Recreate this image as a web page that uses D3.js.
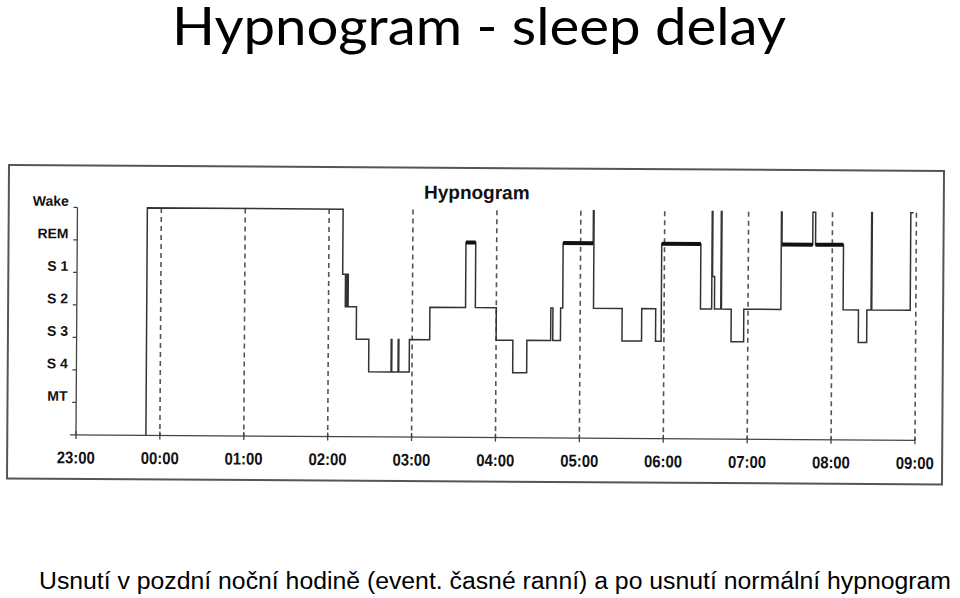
<!DOCTYPE html>
<html>
<head>
<meta charset="utf-8">
<script src="https://cdn.jsdelivr.net/npm/d3@7"></script>
<style>
  body { margin: 0; background: #fff; }
  svg { display: block; }
</style>
</head>
<body>
<div id="charts"></div>
<script>
var stages = ["Wake", "REM", "S 1", "S 2", "S 3", "S 4", "MT"];
var hourLabels = ["23:00", "00:00", "01:00", "02:00", "03:00", "04:00", "05:00", "06:00", "07:00", "08:00", "09:00"];

// [clock time, stage] - stage null means the line starts at the time axis
var hypnogram = [
  ["23:50", null],
  ["23:50", "Wake"],
  ["02:10", "S 1"],
  ["02:12", "S 2"],
  ["02:13", "S 1"],
  ["02:14", "S 2"],
  ["02:20", "S 3"],
  ["02:29", "S 4"],
  ["02:45", "S 3"],
  ["02:45:30", "S 4"],
  ["02:50", "S 3"],
  ["02:50:30", "S 4"],
  ["02:58", "S 3"],
  ["03:12:30", "S 2"],
  ["03:38", "REM"],
  ["03:45", "S 2"],
  ["04:00", "S 3"],
  ["04:12", "S 4"],
  ["04:22", "S 3"],
  ["04:39", "S 2"],
  ["04:40:30", "S 3"],
  ["04:46", "S 2"],
  ["04:47:30", "REM"],
  ["05:09", "Wake"],
  ["05:09:30", "S 2"],
  ["05:30", "S 3"],
  ["05:44", "S 2"],
  ["05:54", "S 3"],
  ["05:58", "REM"],
  ["06:26", "S 2"],
  ["06:34", "Wake"],
  ["06:34:30", "S 1"],
  ["06:36", "S 2"],
  ["06:40:30", "Wake"],
  ["06:41", "S 2"],
  ["06:48", "S 3"],
  ["06:57", "S 2"],
  ["07:23:30", "Wake"],
  ["07:24", "REM"],
  ["07:46", "Wake"],
  ["07:48", "REM"],
  ["08:08", "S 2"],
  ["08:19", "S 3"],
  ["08:25", "S 2"],
  ["08:28", "Wake"],
  ["08:28:30", "S 2"],
  ["08:56", "Wake"],
  ["08:58", "Wake"]
];

var width = 960,
    height = 598;

// minutes after 23:00
function toMinutes(t) {
  var p = t.split(":").map(Number);
  var h = p[0] >= 12 ? p[0] - 23 : p[0] + 1;
  return h * 60 + p[1] + (p[2] || 0) / 60;
}

function stageIndex(s) {
  return s === null ? stages.length : stages.indexOf(s);
}

var x = d3.scaleLinear().domain([0, 600]).range([76.7, 915.7]);
var y = d3.scaleLinear().domain([0, stages.length]).range([210, 437.5]);

var svg = d3.select("#charts").append("svg")
    .attr("width", width)
    .attr("height", height);

svg.append("text")
    .attr("x", 479)
    .attr("y", 45)
    .attr("text-anchor", "middle")
    .attr("textLength", 614)
    .attr("lengthAdjust", "spacingAndGlyphs")
    .style("font-family", "Lato, 'Open Sans', sans-serif")
    .style("font-size", "53px")
    .style("fill", "#000")
    .text("Hypnogram - sleep delay");

svg.append("text")
    .attr("x", 39)
    .attr("y", 588.5)
    .attr("textLength", 912)
    .attr("lengthAdjust", "spacingAndGlyphs")
    .style("font-family", "'Liberation Sans', Arial, sans-serif")
    .style("font-size", "23.5px")
    .style("fill", "#000")
    .text("Usnutí v pozdní noční hodině (event. časné ranní) a po usnutí normální hypnogram");

// the scanned figure is slightly tilted
var chart = svg.append("g")
    .attr("transform", "rotate(0.37,476,325)");

chart.append("rect")
    .attr("x", 8)
    .attr("y", 168)
    .attr("width", 935)
    .attr("height", 313.5)
    .style("fill", "none")
    .style("stroke", "#555")
    .style("stroke-width", 2);

chart.append("text")
    .attr("x", 476)
    .attr("y", 199)
    .attr("text-anchor", "middle")
    .style("font-family", "'Liberation Sans', Arial, sans-serif")
    .style("font-weight", "bold")
    .style("font-size", "19px")
    .style("fill", "#111")
    .text("Hypnogram");

// hour grid
chart.selectAll(".grid")
    .data(hourLabels.slice(1))
  .enter().append("line")
    .attr("class", "grid")
    .attr("x1", function(d, i) { return x((i + 1) * 60); })
    .attr("x2", function(d, i) { return x((i + 1) * 60); })
    .attr("y1", y(0))
    .attr("y2", y(stages.length))
    .style("stroke", "#555")
    .style("stroke-width", 1.6)
    .style("stroke-dasharray", "5,4");

// y axis
var yAxis = chart.append("g").attr("class", "yaxis");
yAxis.append("line")
    .attr("x1", x(0)).attr("x2", x(0))
    .attr("y1", y(0)).attr("y2", y(stages.length))
    .style("stroke", "#444").style("stroke-width", 1.3);
yAxis.selectAll(".ytick")
    .data(stages)
  .enter().append("line")
    .attr("class", "ytick")
    .attr("x1", x(0) - 4).attr("x2", x(0))
    .attr("y1", function(d, i) { return y(i); })
    .attr("y2", function(d, i) { return y(i); })
    .style("stroke", "#444").style("stroke-width", 1.3);
yAxis.selectAll(".ylabel")
    .data(stages)
  .enter().append("text")
    .attr("class", "ylabel")
    .attr("x", 68)
    .attr("y", function(d, i) { return y(i) - 1.5; })
    .attr("text-anchor", "end")
    .style("font-family", "'Liberation Sans', Arial, sans-serif")
    .style("font-weight", "bold")
    .style("font-size", "14px")
    .style("fill", "#111")
    .text(function(d) { return d; });

// x axis
var xAxis = chart.append("g").attr("class", "xaxis");
xAxis.append("line")
    .attr("x1", x(0) - 6).attr("x2", x(600))
    .attr("y1", y(stages.length)).attr("y2", y(stages.length))
    .style("stroke", "#444").style("stroke-width", 1.3);
xAxis.selectAll(".xtick")
    .data(hourLabels)
  .enter().append("line")
    .attr("class", "xtick")
    .attr("x1", function(d, i) { return x(i * 60); })
    .attr("x2", function(d, i) { return x(i * 60); })
    .attr("y1", y(stages.length) - 4)
    .attr("y2", y(stages.length) + 4)
    .style("stroke", "#444").style("stroke-width", 1.3);
xAxis.selectAll(".xlabel")
    .data(hourLabels)
  .enter().append("text")
    .attr("class", "xlabel")
    .attr("x", function(d, i) { return x(i * 60); })
    .attr("y", 466)
    .attr("text-anchor", "middle")
    .attr("textLength", 38)
    .attr("lengthAdjust", "spacingAndGlyphs")
    .style("font-family", "'Liberation Sans', Arial, sans-serif")
    .style("font-weight", "bold")
    .style("font-size", "17px")
    .style("fill", "#111")
    .text(function(d) { return d; });

// hypnogram step line
var line = d3.line()
    .x(function(d) { return x(toMinutes(d[0])); })
    .y(function(d) { return y(stageIndex(d[1])); })
    .curve(d3.curveStepAfter);

chart.append("path")
    .datum(hypnogram)
    .attr("d", line)
    .style("fill", "none")
    .style("stroke", "#333")
    .style("stroke-width", 1.5);

// REM periods drawn as heavy bars
var remSegments = [];
hypnogram.forEach(function(d, i) {
  if (d[1] == "REM" && i < hypnogram.length - 1)
    remSegments.push([toMinutes(d[0]), toMinutes(hypnogram[i + 1][0])]);
});

chart.selectAll(".rem")
    .data(remSegments)
  .enter().append("line")
    .attr("class", "rem")
    .attr("x1", function(d) { return x(d[0]); })
    .attr("x2", function(d) { return x(d[1]); })
    .attr("y1", y(stageIndex("REM")))
    .attr("y2", y(stageIndex("REM")))
    .style("stroke", "#111")
    .style("stroke-width", 4);
</script>
</body>
</html>
